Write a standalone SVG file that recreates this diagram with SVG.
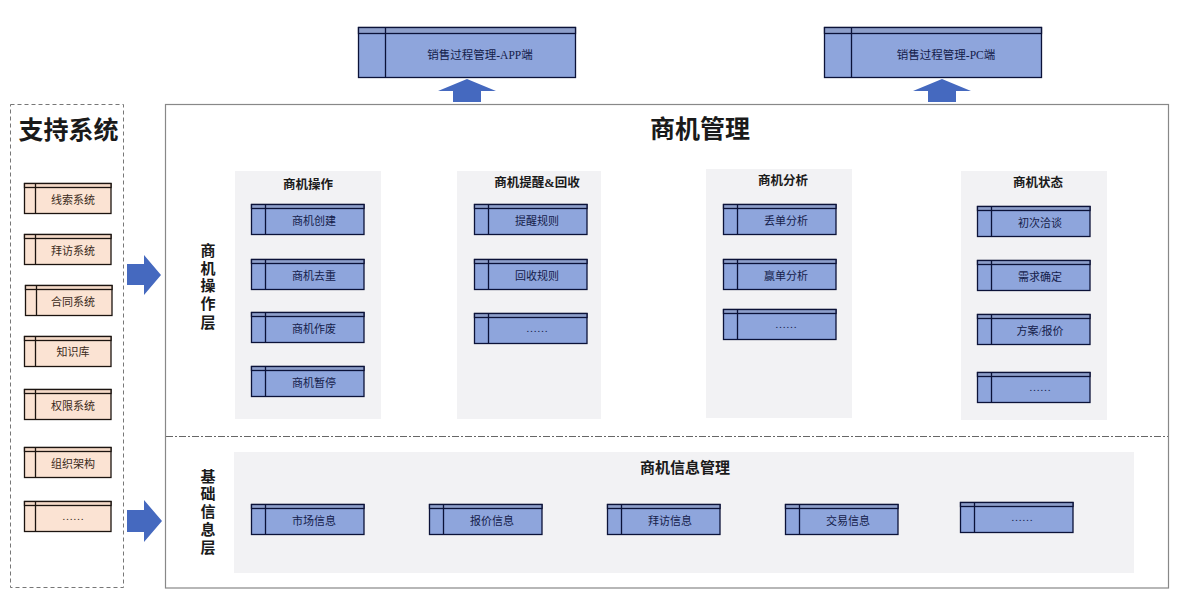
<svg xmlns="http://www.w3.org/2000/svg" width="1190" height="602" viewBox="0 0 1190 602">
<style>
text{font-family:"Liberation Serif","Noto Sans CJK SC",serif;text-anchor:middle;fill:#1a1a1a}
.lbl{font-size:11px;fill:#14204a}
.top{font-size:11.500px;fill:#14204a}
.olbl{font-size:11px;fill:#3a2a20}
.hd{font-size:12.500px;font-weight:700}
.side{font-size:15px;font-weight:700}
.b{fill:#8ea5dc;stroke:#0b1238;stroke-width:1.3}
.h{fill:#8e9fca;stroke:#0b1238;stroke-width:1.3}
.o{fill:#fbe3d3;stroke:#1c1410;stroke-width:1.3}
.oh{fill:#f5dac8;stroke:#1c1410;stroke-width:1.3}
.panel{fill:#f2f2f4}
.arr{fill:#4569bf}
</style>
<defs>
<g id="bluebox"><rect class="b" width="112.500" height="30"/><rect class="h" width="112.500" height="4"/><line class="h" x1="14" y1="0" x2="14" y2="30"/></g>
<g id="orangebox"><rect class="o" width="86.500" height="30"/><rect class="oh" width="86.500" height="4"/><line class="oh" x1="11" y1="0" x2="11" y2="30"/></g>
<g id="topbox"><rect class="b" width="217" height="50"/><rect class="h" width="217" height="6"/><line class="h" x1="27" y1="0" x2="27" y2="50"/></g>
</defs>
<rect width="1190" height="602" fill="#fff"/>
<g id="support-frame"><rect x="10.500" y="104.500" width="113" height="483" fill="#fff" stroke="#777" stroke-dasharray="4 3"/><text x="68.500" y="139" font-size="25" font-weight="700">支持系统</text></g>
<g id="main-frame"><rect x="165.500" y="104.500" width="1003" height="483.500" fill="#fff" stroke="#888" stroke-width="1.200"/><text x="700" y="138" font-size="25" font-weight="700">商机管理</text><line x1="166" y1="436.500" x2="1168" y2="436.500" stroke="#666" stroke-dasharray="7 2 2 2"/></g>
<g id="panels"><rect class="panel" x="235" y="171" width="146" height="248"/><rect class="panel" x="457" y="171" width="144" height="248"/><rect class="panel" x="706" y="169" width="146" height="249"/><rect class="panel" x="961" y="171" width="146" height="249"/><rect class="panel" x="234" y="452" width="900" height="121"/></g>
<g id="layer-labels">
<text class="side" x="208" y="256">商</text><text class="side" x="208" y="274">机</text><text class="side" x="208" y="291">操</text><text class="side" x="208" y="309">作</text><text class="side" x="208" y="328">层</text>
<text class="side" x="208" y="482">基</text><text class="side" x="208" y="499">础</text><text class="side" x="208" y="517">信</text><text class="side" x="208" y="535">息</text><text class="side" x="208" y="553">层</text>
</g>
<g id="panel-titles"><text class="hd" x="308" y="189">商机操作</text><text class="hd" x="537" y="187">商机提醒&amp;回收</text><text class="hd" x="783" y="185">商机分析</text><text class="hd" x="1038" y="187">商机状态</text><text x="685" y="473" font-size="15" font-weight="700">商机信息管理</text></g>
<g id="connectors">
<path class="arr" d="M453 102V91H438L467 79L496 91H481V102Z"/>
<path class="arr" d="M928 102V91H913L942 79L971 91H956V102Z"/>
<path class="arr" d="M127 264H144V255L161 275L144 295V285H127Z"/>
<path class="arr" d="M127 510H144V500L162 521L144 542V532H127Z"/>
</g>
<g id="app"><use href="#topbox" x="358.500" y="27.500"/><text class="top" x="480" y="59">销售过程管理-APP端</text></g>
<g id="pc"><use href="#topbox" x="824.500" y="27.500"/><text class="top" x="946" y="59">销售过程管理-PC端</text></g>
<g id="s1"><use href="#orangebox" x="24.500" y="183.500"/><text class="olbl" x="73" y="204">线索系统</text></g>
<g id="s2"><use href="#orangebox" x="24.500" y="234.500"/><text class="olbl" x="73" y="255">拜访系统</text></g>
<g id="s3"><use href="#orangebox" x="25.500" y="285.500"/><text class="olbl" x="73" y="306">合同系统</text></g>
<g id="s4"><use href="#orangebox" x="24.500" y="336.500"/><text class="olbl" x="73" y="356">知识库</text></g>
<g id="s5"><use href="#orangebox" x="24.500" y="389.500"/><text class="olbl" x="73" y="410">权限系统</text></g>
<g id="s6"><use href="#orangebox" x="24.500" y="447.500"/><text class="olbl" x="73" y="468">组织架构</text></g>
<g id="s7"><use href="#orangebox" x="24.500" y="501.500"/><text class="olbl" x="73" y="520">……</text></g>
<g id="a1"><use href="#bluebox" x="251.500" y="204.500"/><text class="lbl" x="314" y="224.500">商机创建</text></g>
<g id="a2"><use href="#bluebox" x="251.500" y="259.500"/><text class="lbl" x="314" y="279.500">商机去重</text></g>
<g id="a3"><use href="#bluebox" x="251.500" y="312.500"/><text class="lbl" x="314" y="332.500">商机作废</text></g>
<g id="a4"><use href="#bluebox" x="251.500" y="366.500"/><text class="lbl" x="314" y="386.500">商机暂停</text></g>
<g id="b1"><use href="#bluebox" x="474.500" y="204.500"/><text class="lbl" x="537" y="224.500">提醒规则</text></g>
<g id="b2"><use href="#bluebox" x="474.500" y="259.500"/><text class="lbl" x="537" y="279.500">回收规则</text></g>
<g id="b3"><use href="#bluebox" x="474.500" y="313.500"/><text class="lbl" x="537" y="332">……</text></g>
<g id="c1"><use href="#bluebox" x="723.500" y="204.500"/><text class="lbl" x="786" y="224.500">丢单分析</text></g>
<g id="c2"><use href="#bluebox" x="723.500" y="259.500"/><text class="lbl" x="786" y="279.500">赢单分析</text></g>
<g id="c3"><use href="#bluebox" x="723.500" y="309.500"/><text class="lbl" x="786" y="328">……</text></g>
<g id="d1"><use href="#bluebox" x="977.500" y="206.500"/><text class="lbl" x="1040" y="226.500">初次洽谈</text></g>
<g id="d2"><use href="#bluebox" x="977.500" y="260.500"/><text class="lbl" x="1040" y="280.500">需求确定</text></g>
<g id="d3"><use href="#bluebox" x="977.500" y="314.500"/><text class="lbl" x="1040" y="334.500">方案/报价</text></g>
<g id="d4"><use href="#bluebox" x="977.500" y="372.500"/><text class="lbl" x="1040" y="391">……</text></g>
<g id="e1"><use href="#bluebox" x="251.500" y="504.500"/><text class="lbl" x="314" y="524.500">市场信息</text></g>
<g id="e2"><use href="#bluebox" x="429.500" y="504.500"/><text class="lbl" x="492" y="524.500">报价信息</text></g>
<g id="e3"><use href="#bluebox" x="607.500" y="504.500"/><text class="lbl" x="670" y="524.500">拜访信息</text></g>
<g id="e4"><use href="#bluebox" x="785.500" y="504.500"/><text class="lbl" x="848" y="524.500">交易信息</text></g>
<g id="e5"><use href="#bluebox" x="960.500" y="502.500"/><text class="lbl" x="1022" y="521">……</text></g>
</svg>
